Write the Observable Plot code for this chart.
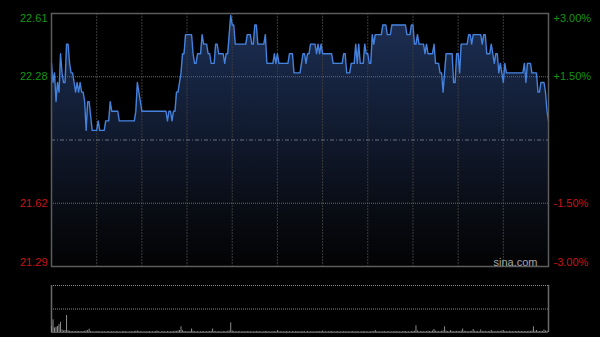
<!DOCTYPE html>
<html><head><meta charset="utf-8">
<script src="https://cdn.jsdelivr.net/npm/d3@7"></script>
<script src="https://cdn.jsdelivr.net/npm/@observablehq/plot@0.6"></script>
<style>
html,body{margin:0;padding:0;background:#000;}
#wrap{position:relative;width:600px;height:337px;background:#000;overflow:hidden;}
#wrap svg{position:absolute;left:0;}
</style></head><body><div id="wrap"></div>
<script>
// ---- data ----
const preClose = 21.95;
const priceTicks = [22.61, 22.28, 21.62, 21.29];
const priceTickLabels = ["22.61", "22.28", "21.62", "21.29"];
const pctTickLabels = ["+3.00%", "+1.50%", "-1.50%", "-3.00%"];
const gridMinutes = [30, 60, 90, 120, 150, 180, 210, 240, 270, 300];
const sessionMinutes = 330;

// price line vertices (minute of session, price)
const minutes = [0,1,2,3,4,5,6,7,8,9,10,11,12,13,14,15,16,17,18,19,20,21,22,23,24,25,27,30,31,32,35,36,38,39,40,44,45,55,56,57,58,59,60,76,77,78,79,80,81,82,83,84,85,86,87,88,89,93,94,95,96,97,99,100,101,103,104,105,106,108,109,110,111,114,115,116,117,118,119,120,121,122,129,130,132,133,134,135,136,137,141,142,143,147,148,149,150,151,157,158,160,161,165,166,167,168,169,170,171,172,175,176,177,178,179,180,186,187,193,194,195,196,198,199,201,202,203,204,205,207,208,209,210,211,212,213,214,215,219,220,222,223,225,226,235,236,238,239,240,241,242,243,244,247,248,249,250,253,254,255,257,258,259,260,261,262,266,267,268,269,270,271,272,276,277,278,279,280,285,286,287,288,289,291,292,293,294,295,296,297,298,299,300,301,302,313,314,315,316,318,319,322,323,324,325,327,328,329,330];
const prices = [22.35,22.25,22.30,22.15,22.25,22.20,22.40,22.30,22.25,22.25,22.45,22.45,22.35,22.30,22.30,22.25,22.20,22.25,22.20,22.25,22.20,22.20,22.15,22.00,22.15,22.15,22.00,22.00,22.05,22.00,22.00,22.05,22.05,22.15,22.10,22.10,22.05,22.05,22.10,22.25,22.20,22.15,22.10,22.10,22.05,22.10,22.10,22.05,22.10,22.10,22.20,22.20,22.25,22.30,22.40,22.40,22.50,22.50,22.40,22.35,22.35,22.40,22.40,22.50,22.45,22.45,22.40,22.40,22.35,22.35,22.45,22.45,22.40,22.40,22.35,22.40,22.40,22.50,22.60,22.55,22.55,22.45,22.45,22.50,22.50,22.45,22.45,22.55,22.55,22.45,22.45,22.50,22.35,22.35,22.40,22.35,22.40,22.35,22.35,22.40,22.40,22.30,22.30,22.35,22.40,22.40,22.35,22.40,22.40,22.45,22.45,22.40,22.45,22.40,22.45,22.40,22.40,22.35,22.35,22.40,22.40,22.30,22.30,22.35,22.35,22.45,22.35,22.45,22.35,22.35,22.45,22.40,22.40,22.35,22.35,22.50,22.45,22.50,22.50,22.55,22.55,22.50,22.50,22.55,22.55,22.50,22.50,22.55,22.55,22.45,22.45,22.50,22.45,22.45,22.40,22.45,22.40,22.40,22.45,22.35,22.35,22.30,22.30,22.20,22.30,22.40,22.40,22.25,22.25,22.40,22.40,22.30,22.45,22.45,22.50,22.50,22.45,22.50,22.50,22.45,22.50,22.50,22.40,22.40,22.45,22.40,22.35,22.40,22.40,22.30,22.35,22.30,22.25,22.35,22.30,22.30,22.35,22.25,22.35,22.35,22.30,22.30,22.20,22.20,22.25,22.25,22.20,22.10,22.05];

// per-minute volume (arbitrary units), minute 0..330
const volumes = [
 60,127,45,53,60,80,103,25,15,20,170,18,12,10,8,10,8,12,10,9,8,10,12,15,20,33,10,8,6,8,
 8,10,6,8,7,9,6,8,10,7,9,8,6,10,8,7,6,9,8,10,7,6,8,9,7,10,12,15,9,8,
 8,6,9,7,8,10,6,8,7,9,15,8,6,7,9,8,6,10,8,7,9,8,12,10,15,20,57,18,10,8,
 9,7,10,35,12,8,7,9,6,8,10,8,7,9,8,10,12,35,10,8,7,9,8,6,10,8,7,12,15,97,
 15,9,8,7,10,8,6,9,8,7,10,8,9,6,8,7,10,8,9,7,6,8,10,9,7,8,6,9,8,7,
 20,8,7,9,6,8,10,7,8,6,9,7,8,10,6,8,7,9,8,6,10,7,8,9,6,8,7,10,8,9,
 15,7,8,6,9,8,10,7,6,8,9,7,8,6,10,8,7,9,6,8,10,7,8,9,7,6,8,10,9,7,
 8,6,9,7,10,20,8,7,9,6,8,10,7,8,9,6,8,7,10,8,9,7,6,8,9,10,7,8,6,9,
 10,12,67,15,9,8,10,7,9,8,12,10,9,15,30,12,10,9,8,12,15,57,14,10,9,20,10,8,9,12,
 10,9,15,35,12,10,9,8,12,10,30,12,9,10,8,25,10,9,12,8,10,9,20,10,8,9,12,10,9,15,
 20,10,9,8,12,10,9,8,10,9,12,8,10,9,8,10,9,12,10,15,57,12,20,10,9,12,10,25,15,12,
 10];
const volumeMax = 470;

// ---- build ----
const series = minutes.map((m, i) => ({m, p: prices[i]}));
const volRows = volumes.map((v, m) => ({m, v}));
const yMin = priceTicks[3], yMax = priceTicks[0];
const green = "#129512", red = "#c81414";
const labels = priceTicks.map((p, i) => ({p, left: priceTickLabels[i], right: pctTickLabels[i], c: p > preClose ? green : red, i}));
const FONT = "'Liberation Sans', Arial, sans-serif";

function labelMarks(filter, lineAnchor, dy) {
  const d = labels.filter(filter);
  return [
    Plot.text(d, {x: 0, y: "p", text: "left", fill: "c", textAnchor: "end", dx: -4, dy, lineAnchor, fontSize: 11}),
    Plot.text(d, {x: sessionMinutes, y: "p", text: "right", fill: "c", textAnchor: "start", dx: 5, dy, lineAnchor, fontSize: 11})
  ];
}

const main = Plot.plot({
  width: 600, height: 275,
  marginLeft: 51, marginRight: 52, marginTop: 13, marginBottom: 9,
  style: {background: "transparent", fontFamily: FONT},
  x: {domain: [0, sessionMinutes], axis: null},
  y: {domain: [yMin, yMax], axis: null},
  marks: [
    Plot.areaY(series, {x: "m", y1: yMin, y2: "p", fill: "url(#pxGrad)"}),
    Plot.ruleX(gridMinutes, {stroke: "#3b3b3b", strokeDasharray: "2,1"}),
    Plot.ruleY([priceTicks[1], priceTicks[2]], {stroke: "#6a6a6a", strokeDasharray: "1,1"}),
    Plot.ruleY([preClose], {stroke: "#6a7080", strokeDasharray: "4,2,1,2"}),
    Plot.lineY(series, {x: "m", y: "p", stroke: "#4482de", strokeWidth: 1.4}),
    Plot.frame({stroke: "#5c5c5c", strokeWidth: 1.5}),
    ...labelMarks(d => d.i === 0, "top", 1),
    ...labelMarks(d => d.i === 1 || d.i === 2, "middle", 0),
    ...labelMarks(d => d.i === 3, "bottom", -1),
    Plot.text(["sina.com"], {frameAnchor: "bottom-right", dx: -11, dy: -1, textAnchor: "end", lineAnchor: "bottom", fill: "#a6a6a6", fontSize: 11})
  ]
});
main.style.top = "0px";

const defs = d3.select(main).insert("defs", ":first-child");
const grad = defs.append("linearGradient").attr("id", "pxGrad")
  .attr("x1", 0).attr("y1", 0).attr("x2", 0).attr("y2", 1);
[["0%", "#1c2f55"], ["45%", "#111b30"], ["80%", "#080b12"], ["100%", "#030304"]]
  .forEach(([o, c]) => grad.append("stop").attr("offset", o).attr("stop-color", c));

const vol = Plot.plot({
  width: 600, height: 62,
  marginLeft: 51, marginRight: 52, marginTop: 10, marginBottom: 5,
  style: {background: "transparent"},
  x: {domain: [0, sessionMinutes], axis: null},
  y: {domain: [0, volumeMax], axis: null},
  marks: [
    Plot.ruleY([volumeMax, volumeMax / 2], {stroke: "#8a8a8a", strokeDasharray: "1,1"}),
    Plot.ruleY([0], {stroke: "#5a5a5a"}),
    Plot.ruleX([0, sessionMinutes], {stroke: "#6a6a6a", strokeWidth: 1.5}),
    Plot.ruleX(volRows, {x: "m", y1: 0, y2: "v", stroke: "#8c8c8c", strokeWidth: 1})
  ]
});
vol.style.top = "275px";

const wrap = document.getElementById("wrap");
wrap.appendChild(main);
wrap.appendChild(vol);
</script></body></html>
